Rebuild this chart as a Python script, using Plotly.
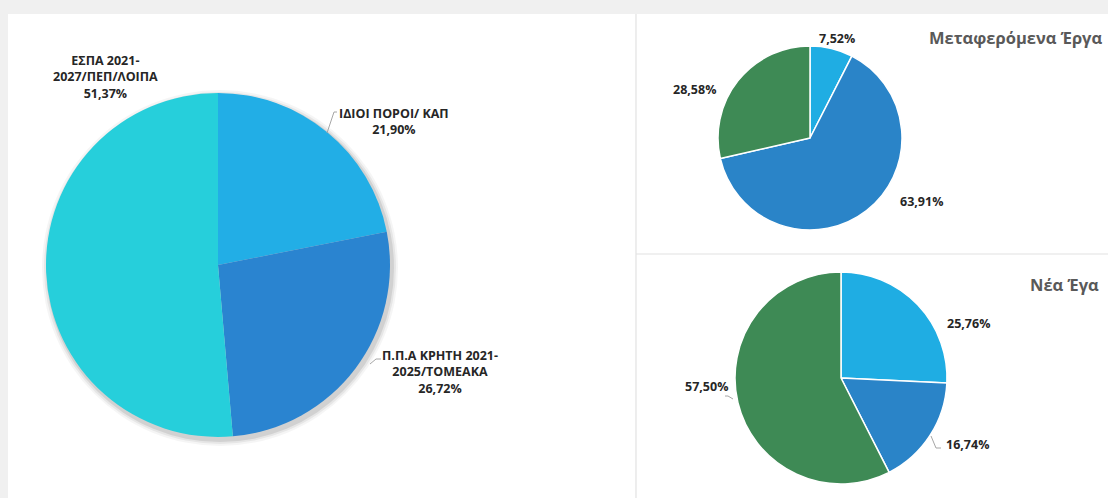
import plotly.graph_objects as go

W, H = 1108, 498

# ---- data ----
categories = ["ΙΔΙΟΙ ΠΟΡΟΙ/ ΚΑΠ", "Π.Π.Α ΚΡΗΤΗ 2021-2025/ΤΟΜΕΑΚΑ", "ΕΣΠΑ 2021-2027/ΠΕΠ/ΛΟΙΠΑ"]
category_lines = ["ΙΔΙΟΙ ΠΟΡΟΙ/ ΚΑΠ", "Π.Π.Α ΚΡΗΤΗ 2021-<br>2025/ΤΟΜΕΑΚΑ", "ΕΣΠΑ 2021-<br>2027/ΠΕΠ/ΛΟΙΠΑ"]
total_values = [21.90, 26.72, 51.37]
transferred_values = [7.52, 63.91, 28.58]
new_values = [25.76, 16.74, 57.50]
title_transferred = "Μεταφερόμενα Έργα"
title_new = "Νέα Έγα"

# ---- styles ----
left_colors = ["#22aee6", "#2a84d0", "#26cfdb"]
right_colors = ["#1fade3", "#2a84c8", "#3e8a55"]
LBL_FONT = dict(family="Open Sans, DejaVu Sans", size=12, color="#262626")
TITLE_FONT = dict(family="Open Sans, DejaVu Sans", size=16.5, color="#595959")


def fx(px):
    return px / W


def fy(py):
    return 1 - py / H


def dom(cx, cy, r):
    return dict(x=[fx(cx - r), fx(cx + r)], y=[fy(cy + r), fy(cy - r)])


def pct(v):
    return f"{v:.2f}".replace(".", ",") + "%"


fig = go.Figure()

fig.add_trace(go.Pie(
    labels=categories, values=total_values, sort=False, direction="clockwise",
    rotation=0, marker=dict(colors=left_colors, line=dict(width=0)),
    textinfo="none", hoverinfo="skip", showlegend=False,
    domain=dom(218, 265, 172),
))
fig.add_trace(go.Pie(
    labels=categories, values=transferred_values, sort=False, direction="clockwise",
    rotation=0, marker=dict(colors=right_colors, line=dict(width=1.5, color="white")),
    textinfo="none", hoverinfo="skip", showlegend=False,
    domain=dom(810, 138, 92),
))
fig.add_trace(go.Pie(
    labels=categories, values=new_values, sort=False, direction="clockwise",
    rotation=0, marker=dict(colors=right_colors, line=dict(width=1.5, color="white")),
    textinfo="none", hoverinfo="skip", showlegend=False,
    domain=dom(841, 378, 106),
))

shapes = [
    # panel background
    dict(type="rect", xref="paper", yref="paper", x0=fx(8), x1=1, y0=0, y1=fy(14),
         fillcolor="white", line=dict(width=0), layer="below"),
    # dividers
    dict(type="line", xref="paper", yref="paper", x0=fx(636), x1=fx(636), y0=0, y1=fy(14),
         line=dict(color="#e2e2e2", width=1.2), layer="below"),
    dict(type="line", xref="paper", yref="paper", x0=fx(636), x1=1, y0=fy(254), y1=fy(254),
         line=dict(color="#e2e2e2", width=1.2), layer="below"),
]
# soft shadow under the big pie
for dr, op in [(6, 0.04), (4, 0.06), (2, 0.09)]:
    cx, cy, r = 220, 268, 172 + dr
    shapes.append(dict(type="circle", xref="paper", yref="paper",
                       x0=fx(cx - r), x1=fx(cx + r), y0=fy(cy + r), y1=fy(cy - r),
                       fillcolor=f"rgba(0,0,0,{op})", line=dict(width=0), layer="below"))

# leader lines
def leader(points):
    for (x0, y0), (x1, y1) in zip(points[:-1], points[1:]):
        shapes.append(dict(type="line", xref="paper", yref="paper",
                           x0=fx(x0), y0=fy(y0), x1=fx(x1), y1=fy(y1),
                           line=dict(color="#a6a6a6", width=1)))

leader([(327, 133), (334, 112), (337, 112)])
leader([(370, 364), (376, 359), (381, 359)])
leader([(733, 399), (728, 396), (725, 396)])
leader([(931, 436), (936, 448), (941, 448)])

ann = []


def label(text, px, py, size=12.5, xanchor="center"):
    ann.append(dict(text=text, x=fx(px), y=fy(py), xref="paper", yref="paper",
                    showarrow=False, xanchor=xanchor, yanchor="middle", align="center",
                    font=dict(LBL_FONT, size=size)))


label(f"<b>{category_lines[2]}<br>{pct(total_values[2])}</b>", 105, 77)
label(f"<b>{category_lines[0]}<br>{pct(total_values[0])}</b>", 394, 122)
label(f"<b>{category_lines[1]}<br>{pct(total_values[1])}</b>", 440, 372)

label(f"<b>{pct(transferred_values[0])}</b>", 837, 38)
label(f"<b>{pct(transferred_values[1])}</b>", 922, 202)
label(f"<b>{pct(transferred_values[2])}</b>", 694, 89)

label(f"<b>{pct(new_values[0])}</b>", 968, 323)
label(f"<b>{pct(new_values[1])}</b>", 967, 444)
label(f"<b>{pct(new_values[2])}</b>", 706, 386)

ann.append(dict(text=f"<b>{title_transferred}</b>", x=fx(927), y=fy(37), xref="paper", yref="paper",
                showarrow=False, xanchor="left", yanchor="middle", font=TITLE_FONT))
ann.append(dict(text=f"<b>{title_new}</b>", x=fx(1101), y=fy(284), xref="paper", yref="paper",
                showarrow=False, xanchor="right", yanchor="middle", font=TITLE_FONT))

fig.update_layout(
    width=W, height=H, margin=dict(l=0, r=0, t=0, b=0),
    paper_bgcolor="#f0f0f0", plot_bgcolor="white",
    shapes=shapes, annotations=ann, showlegend=False,
)

fig.write_html("out.html", config={"displayModeBar": False},
               post_script="document.body.style.margin='0';document.body.style.overflow='hidden';")
